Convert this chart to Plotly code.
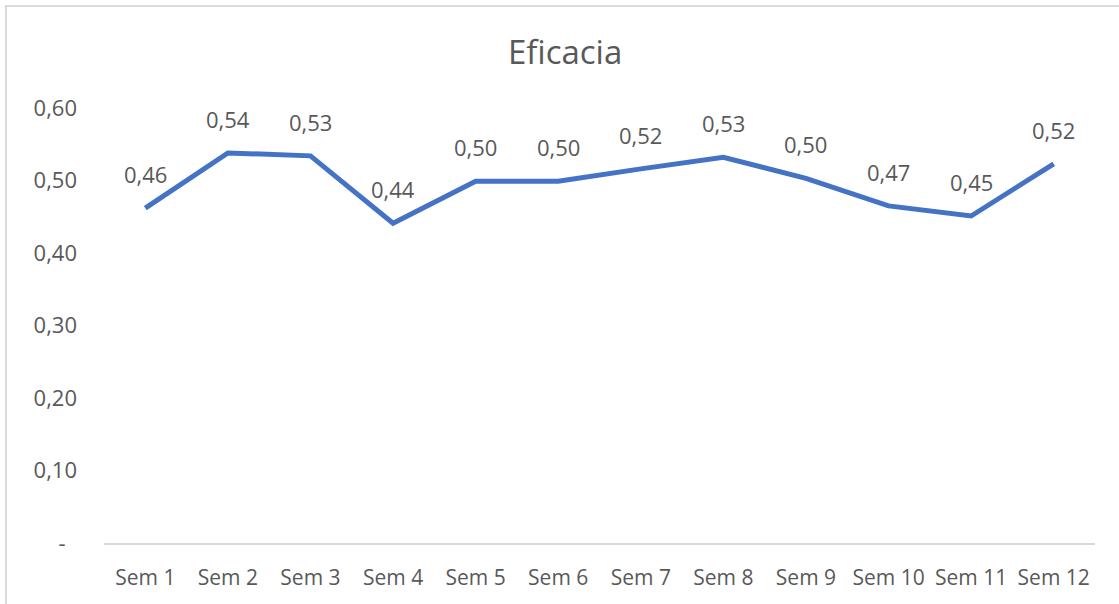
import plotly.graph_objects as go

# Weekly efficacy values
semanas = ["Sem 1", "Sem 2", "Sem 3", "Sem 4", "Sem 5", "Sem 6",
           "Sem 7", "Sem 8", "Sem 9", "Sem 10", "Sem 11", "Sem 12"]
eficacia = [0.462, 0.538, 0.534, 0.441, 0.499, 0.499,
            0.516, 0.532, 0.503, 0.465, 0.451, 0.523]

y_ticks = [0, 0.1, 0.2, 0.3, 0.4, 0.5, 0.6]
y_tick_labels = ["-\u00a0\u00a0", "0,10", "0,20", "0,30", "0,40", "0,50", "0,60"]

FONT = "Open Sans"
GRAY = "#595959"

fig = go.Figure()
fig.add_trace(go.Scatter(
    x=semanas, y=eficacia, mode="lines",
    line=dict(color="#4472C4", width=5),
    hoverinfo="skip", showlegend=False,
))

# Value labels above each point, formatted with decimal comma
for s, v in zip(semanas, eficacia):
    fig.add_annotation(
        x=s, y=v, text=f"{v:.2f}".replace(".", ","),
        showarrow=False, yshift=34, yanchor="middle",
        font=dict(family=FONT, size=22, color=GRAY),
    )

# Chart frame
fig.add_shape(type="rect", xref="paper", yref="paper",
              x0=-0.0989, x1=1.2, y0=-0.5, y1=1.2345,
              line=dict(color="#d9d9d9", width=2), layer="below")

fig.update_layout(
    width=1119, height=604,
    margin=dict(l=104, r=24, t=108, b=61),
    paper_bgcolor="white", plot_bgcolor="white",
    title=dict(text="Eficacia", x=0.505, xref="container", xanchor="center",
               y=0.913, yanchor="middle",
               font=dict(family=FONT, size=33, color=GRAY)),
    xaxis=dict(
        type="category", range=[-0.5, 11.5],
        showline=True, linecolor="#d9d9d9", linewidth=2,
        showgrid=False, ticks="", ticklabelstandoff=15,
        tickfont=dict(family=FONT, size=21, color=GRAY),
        fixedrange=True,
    ),
    yaxis=dict(
        range=[0, 0.6], tickvals=y_ticks, ticktext=y_tick_labels,
        showgrid=False, zeroline=False, showline=False, ticks="",
        ticklabelstandoff=26,
        tickfont=dict(family=FONT, size=22, color=GRAY),
        fixedrange=True,
    ),
)

fig.write_html("out.html")
